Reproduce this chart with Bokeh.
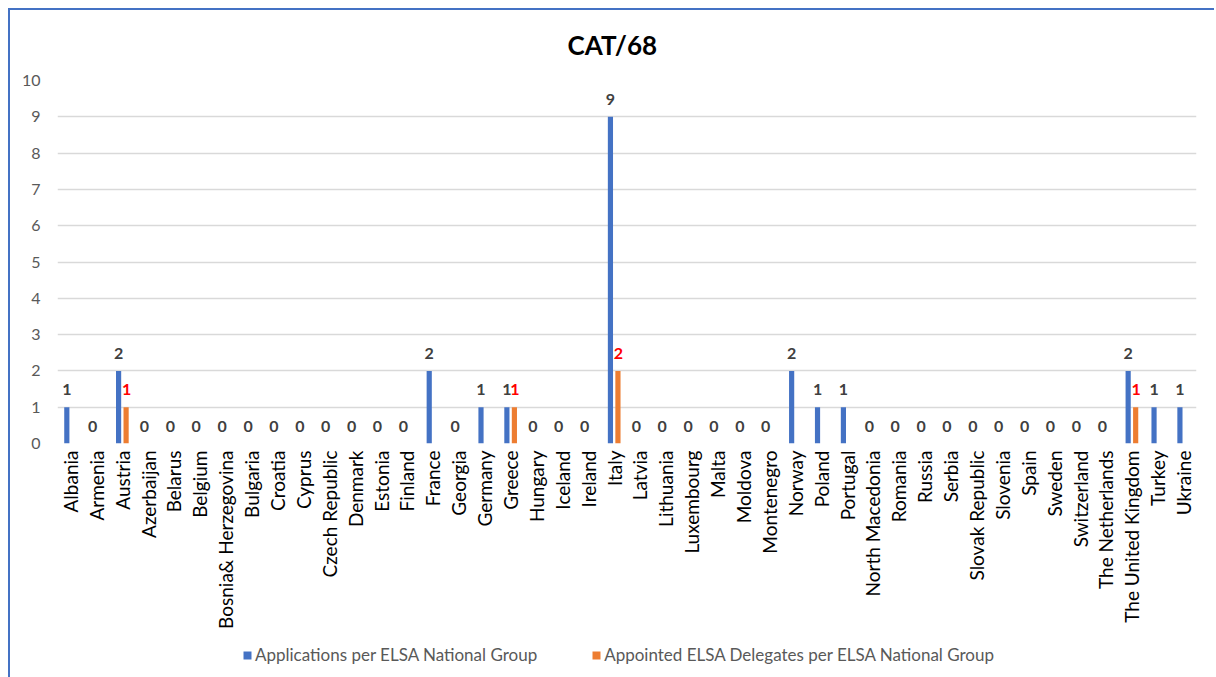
import math
from bokeh.plotting import figure
from bokeh.layouts import column
from bokeh.models import ColumnDataSource, FactorRange, Legend, LegendItem, Title
from bokeh.transform import dodge
from bokeh.core.properties import value
from bokeh.embed import file_html
from bokeh.resources import INLINE

countries = ["Albania", "Armenia", "Austria", "Azerbaijan", "Belarus", "Belgium",
             "Bosnia& Herzegovina", "Bulgaria", "Croatia", "Cyprus", "Czech Republic",
             "Denmark", "Estonia", "Finland", "France", "Georgia", "Germany", "Greece",
             "Hungary", "Iceland", "Ireland", "Italy", "Latvia", "Lithuania", "Luxembourg",
             "Malta", "Moldova", "Montenegro", "Norway", "Poland", "Portugal",
             "North Macedonia", "Romania", "Russia", "Serbia", "Slovak Republic",
             "Slovenia", "Spain", "Sweden", "Switzerland", "The Netherlands",
             "The United Kingdom", "Turkey", "Ukraine"]
applications = [1, 0, 2, 0, 0, 0, 0, 0, 0, 0, 0, 0, 0, 0, 2, 0, 1, 1, 0, 0, 0, 9,
                0, 0, 0, 0, 0, 0, 2, 1, 1, 0, 0, 0, 0, 0, 0, 0, 0, 0, 0, 2, 1, 1]
delegates = [0, 0, 1, 0, 0, 0, 0, 0, 0, 0, 0, 0, 0, 0, 0, 0, 0, 1, 0, 0, 0, 2,
             0, 0, 0, 0, 0, 0, 0, 0, 0, 0, 0, 0, 0, 0, 0, 0, 0, 0, 0, 1, 0, 0]
y_ticks = list(range(0, 11))
series_names = ["Applications per ELSA National Group",
                "Appointed ELSA Delegates per ELSA National Group"]

FONT = "Lato"
BLUE = "#4472C4"
ORANGE = "#ED7D31"

src = ColumnDataSource(dict(x=countries, a=applications, d=delegates,
                            at=[str(v) for v in applications]))
nz = [i for i, v in enumerate(delegates) if v != 0]
src_d = ColumnDataSource(dict(x=[countries[i] for i in nz], d=[delegates[i] for i in nz],
                              dt=[str(delegates[i]) for i in nz]))

p = figure(x_range=FactorRange(*countries), y_range=(0, 10),
           frame_width=1139, frame_height=363,
           min_border_left=47, min_border_right=18, min_border_top=70, min_border_bottom=190,
           output_backend="svg", toolbar_location=None)

t = Title(text="CAT/68", align="left", vertical_align="top", text_font=FONT,
          text_font_size="26px", text_font_style="bold", text_color="#000000",
          standoff=36, offset=510)
p.add_layout(t, "above")

p.vbar(x=dodge("x", -0.14, range=p.x_range), top="a", width=0.2, source=src,
       color=BLUE, line_color=None)
p.vbar(x=dodge("x", 0.15, range=p.x_range), top="d", width=0.2, source=src,
       color=ORANGE, line_color=None)

p.text(x=dodge("x", -0.14, range=p.x_range), y="a", text="at", source=src,
       text_font=value(FONT), text_font_size="16px", text_font_style="bold",
       text_color="#404040", text_align="center", text_baseline="bottom", y_offset=-12)
p.text(x=dodge("x", 0.17, range=p.x_range), y="d", text="dt", source=src_d,
       text_font=value(FONT), text_font_size="16px", text_font_style="bold",
       text_color="#FF0000", text_align="center", text_baseline="bottom", y_offset=-12)

p.outline_line_color = None
p.xgrid.grid_line_color = None
p.ygrid.grid_line_color = "#d9d9d9"
p.ygrid.grid_line_width = 1.5
p.yaxis.ticker = y_ticks
p.axis.axis_line_color = None
p.axis.major_tick_line_color = None
p.axis.minor_tick_line_color = None
p.axis.major_tick_out = 0
p.axis.major_tick_in = 0
p.yaxis.major_label_standoff = 17
p.yaxis.major_label_text_font = FONT
p.yaxis.major_label_text_font_size = "16px"
p.yaxis.major_label_text_color = "#595959"
p.xaxis.major_label_orientation = math.pi / 2
p.xaxis.major_label_standoff = 7
p.xaxis.major_label_text_font = FONT
p.xaxis.major_label_text_font_size = "19px"
p.xaxis.major_label_text_color = "#000000"
p.x_range.range_padding = 0
p.x_range.factor_padding = 0

# legend strip below the chart
p2 = figure(x_range=(0, 1), y_range=(0, 1), frame_width=1204, frame_height=44,
            min_border=0, x_axis_type=None, y_axis_type=None,
            output_backend="svg", toolbar_location=None)
p2.outline_line_color = None
p2.grid.grid_line_color = None
g1 = p2.vbar(x=[0.5], top=[0], bottom=[0], width=0.0, color=BLUE, line_color=None)
g2 = p2.vbar(x=[0.5], top=[0], bottom=[0], width=0.0, color=ORANGE, line_color=None)
legend = Legend(items=[LegendItem(label=series_names[0], renderers=[g1]),
                       LegendItem(label=series_names[1], renderers=[g2])],
                orientation="horizontal", location=(232, 12),
                label_text_font=FONT, label_text_font_size="17px", label_text_color="#595959",
                glyph_width=10, glyph_height=10, label_standoff=3, spacing=54,
                padding=0, margin=0, border_line_color=None, background_fill_alpha=0)
p2.add_layout(legend, "center")

layout = column(p, p2, spacing=0,
                styles={"margin-left": "8px", "margin-top": "8px",
                        "border-left": "2px solid #4472C4",
                        "border-top": "2px solid #4472C4"})

open("out.html", "w").write(file_html(layout, INLINE))
